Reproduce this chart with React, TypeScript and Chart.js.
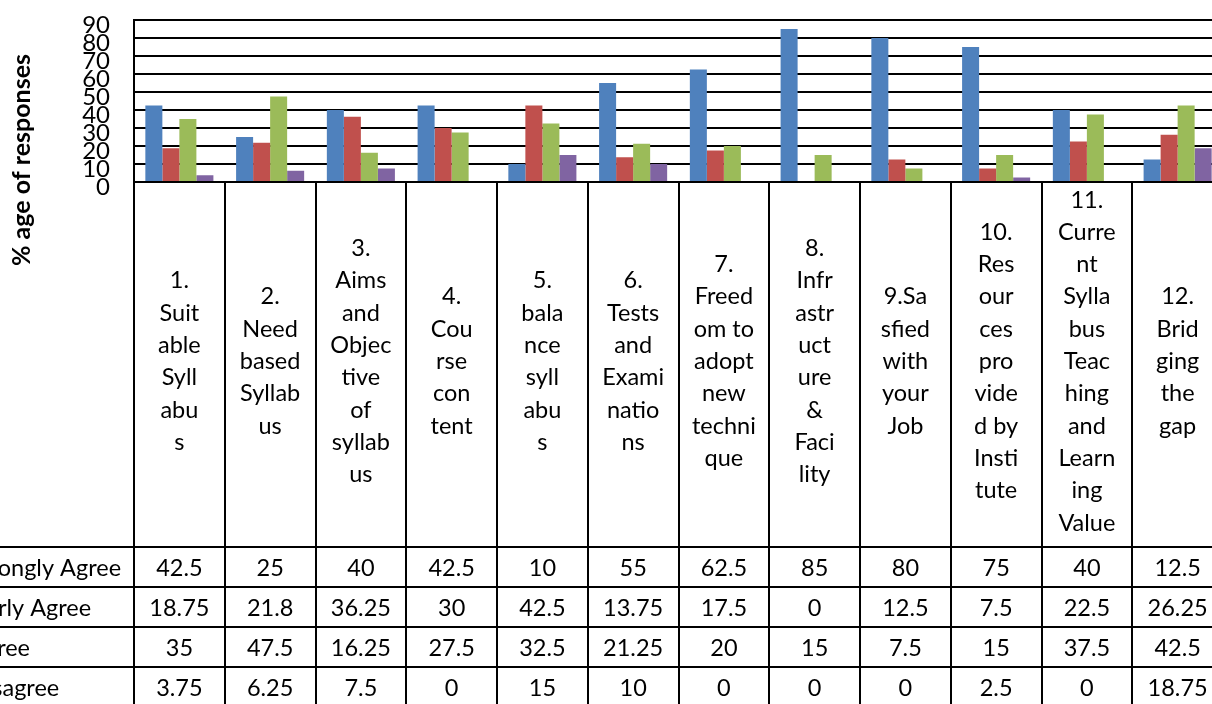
import React, { useEffect, useRef } from 'react';
import { Chart, registerables } from 'chart.js';

Chart.register(...registerables);

// ---- data ----
const categories: string[][] = [
  ['1.', 'Suit', 'able', 'Syll', 'abu', 's'],
  ['2.', 'Need', 'based', 'Syllab', 'us'],
  ['3.', 'Aims', 'and', 'Objec', 'tive', 'of', 'syllab', 'us'],
  ['4.', 'Cou', 'rse', 'con', 'tent'],
  ['5.', 'bala', 'nce', 'syll', 'abu', 's'],
  ['6.', 'Tests', 'and', 'Exami', 'natio', 'ns'],
  ['7.', 'Freed', 'om to', 'adopt', 'new', 'techni', 'que'],
  ['8.', 'Infr', 'astr', 'uct', 'ure', '&', 'Faci', 'lity'],
  ['9.Sa', 'sfied', 'with', 'your', 'Job'],
  ['10.', 'Res', 'our', 'ces', 'pro', 'vide', 'd by', 'Insti', 'tute'],
  ['11.', 'Curre', 'nt', 'Sylla', 'bus', 'Teac', 'hing', 'and', 'Learn', 'ing', 'Value'],
  ['12.', 'Brid', 'ging', 'the', 'gap'],
];

const seriesNames: string[] = ['Strongly Agree', 'Fairly Agree', 'Agree', 'Disagree'];

const stronglyAgree: number[] = [42.5, 25, 40, 42.5, 10, 55, 62.5, 85, 80, 75, 40, 12.5];
const fairlyAgree: number[] = [18.75, 21.8, 36.25, 30, 42.5, 13.75, 17.5, 0, 12.5, 7.5, 22.5, 26.25];
const agree: number[] = [35, 47.5, 16.25, 27.5, 32.5, 21.25, 20, 15, 7.5, 15, 37.5, 42.5];
const disagree: number[] = [3.75, 6.25, 7.5, 0, 15, 10, 0, 0, 0, 2.5, 0, 18.75];

const seriesValues: number[][] = [stronglyAgree, fairlyAgree, agree, disagree];
const seriesColors: string[] = ['#4F81BD', '#C0504D', '#9BBB59', '#8064A2'];

const yMin = 0;
const yMax = 90;
const yStep = 10;
const yTitle = '% age of responses';

// ---- layout constants (canvas coordinates) ----
const CANVAS_W = 1340;
const CANVAS_H = 720;
const OFFSET_X = -100;
const ROW_H = 40;
const FONT = 'Lato, Carlito, Calibri, "Open Sans", sans-serif';
const TEXT_SIZE = 23.5;

const tablePlugin = {
  id: 'dataTable',
  afterDraw(chart: any) {
    const { ctx, chartArea, scales } = chart;
    const x = scales.x;
    const n = categories.length;
    const catW = (chartArea.right - chartArea.left) / n;
    const top = chartArea.bottom;
    const cellBottom = x.bottom;
    const tableBottom = cellBottom + ROW_H * seriesNames.length;
    const labelLeft = 20;

    ctx.save();
    ctx.strokeStyle = '#000';
    ctx.lineWidth = 2;

    // vertical borders
    for (let k = 0; k <= n; k++) {
      const px = Math.round(chartArea.left + k * catW);
      ctx.beginPath();
      ctx.moveTo(px, top);
      ctx.lineTo(px, tableBottom);
      ctx.stroke();
    }
    ctx.beginPath();
    ctx.moveTo(labelLeft, cellBottom);
    ctx.lineTo(labelLeft, tableBottom);
    ctx.stroke();

    // horizontal borders
    for (let r = 0; r <= seriesNames.length; r++) {
      const py = Math.round(cellBottom + r * ROW_H);
      ctx.beginPath();
      ctx.moveTo(labelLeft, py);
      ctx.lineTo(chartArea.right, py);
      ctx.stroke();
    }

    // values and row labels
    ctx.fillStyle = '#000';
    ctx.font = `${TEXT_SIZE}px ${FONT}`;
    ctx.textBaseline = 'middle';
    seriesNames.forEach((name, r) => {
      const cy = cellBottom + r * ROW_H + ROW_H / 2 + 1;
      // legend key
      ctx.fillStyle = seriesColors[r];
      ctx.fillRect(labelLeft + 12, cy - 5, 10, 10);
      ctx.fillStyle = '#000';
      ctx.textAlign = 'left';
      ctx.fillText(name, 69, cy);
      ctx.textAlign = 'center';
      seriesValues[r].forEach((v, i) => {
        ctx.fillText(String(v), x.getPixelForValue(i), cy);
      });
    });

    // y-axis title
    ctx.save();
    ctx.translate(122, 160);
    ctx.rotate(-Math.PI / 2);
    ctx.font = `bold 25px ${FONT}`;
    ctx.textAlign = 'center';
    ctx.textBaseline = 'middle';
    ctx.fillText(yTitle, 0, 0);
    ctx.restore();

    ctx.restore();
  },
};

export default function App() {
  const ref = useRef<HTMLCanvasElement>(null);

  useEffect(() => {
    if (!ref.current) return;
    const chart = new Chart(ref.current, {
      type: 'bar',
      data: {
        labels: categories,
        datasets: seriesNames.map((name, i) => ({
          label: name,
          data: seriesValues[i],
          backgroundColor: seriesColors[i],
          borderWidth: 0,
          categoryPercentage: 0.75,
          barPercentage: 1.0,
        })),
      },
      options: {
        responsive: false,
        animation: false,
        devicePixelRatio: 1,
        layout: {
          padding: { left: 100, right: 17, top: 20, bottom: 173 },
        },
        plugins: {
          legend: { display: false },
          title: { display: false },
          tooltip: { enabled: false },
        },
        scales: {
          x: {
            type: 'category',
            grid: { display: false, drawTicks: false },
            border: { display: false },
            ticks: {
              color: '#000',
              font: { family: FONT, size: TEXT_SIZE, lineHeight: 32.3 / TEXT_SIZE },
              crossAlign: 'center',
              padding: 18,
              maxRotation: 0,
              minRotation: 0,
              autoSkip: false,
            },
            afterFit: (scale: any) => {
              scale.height = 365;
            },
          },
          y: {
            min: yMin,
            max: yMax,
            grid: { color: '#000', lineWidth: 2, drawTicks: false },
            border: { display: true, color: '#000', width: 2 },
            ticks: {
              stepSize: yStep,
              autoSkip: false,
              color: '#000',
              font: { family: FONT, size: 24, lineHeight: 1.2 },
              padding: 24,
              labelOffset: 5,
            },
            afterFit: (scale: any) => {
              scale.width = 134;
              scale.paddingTop = 0;
              scale.paddingBottom = 0;
            },
          },
        },
      },
      plugins: [tablePlugin],
    } as any);
    return () => chart.destroy();
  }, []);

  return (
    <div
      style={{
        position: 'fixed',
        left: 0,
        top: 0,
        width: 1212,
        height: 704,
        overflow: 'hidden',
        background: '#fff',
      }}
    >
      <canvas
        ref={ref}
        width={CANVAS_W}
        height={CANVAS_H}
        style={{ position: 'absolute', left: OFFSET_X, top: 0, width: CANVAS_W, height: CANVAS_H }}
      />
    </div>
  );
}
